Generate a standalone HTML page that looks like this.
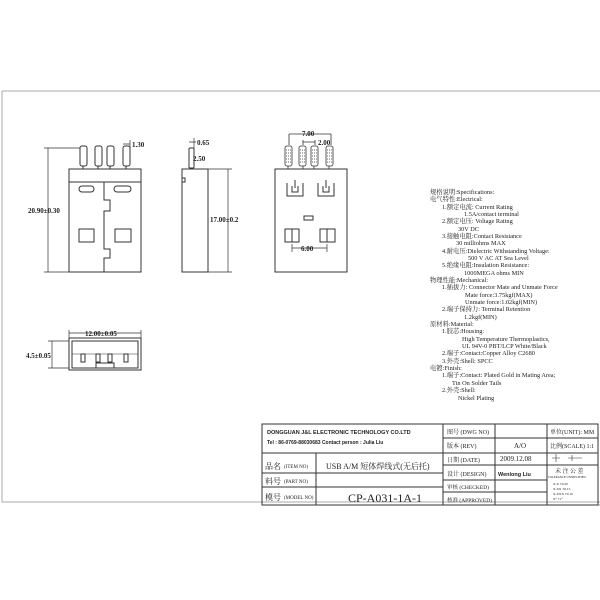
<!DOCTYPE html>
<html><head><meta charset="utf-8"><style>
html,body{margin:0;padding:0;background:#fff}
svg{display:block}
text{font-family:"Liberation Serif","Noto Serif CJK SC",serif;fill:#222}
.s{font-size:6.3px}
</style></head><body>
<svg width="600" height="600" viewBox="0 0 600 600" xmlns="http://www.w3.org/2000/svg">
<g fill="none" stroke="#333" stroke-width="1">
<path d="M2 91 H600 M2 91 V502 H600" stroke="#aaa"/>
<rect x="69" y="169" width="72" height="103"/>
<line x1="69" y1="182" x2="141" y2="182"/>
<path d="M104 182 V200 H110 V211 H104 V249 H110 V258 H104 V272"/>
<rect x="79" y="186" width="15" height="6" rx="3"/>
<rect x="114" y="186" width="17" height="6" rx="3"/>
<rect x="79" y="229" width="15" height="13"/>
<rect x="115" y="229" width="16" height="13"/>
<rect x="80" y="146" width="7" height="20" rx="2"/>
<rect x="95" y="146" width="7" height="20" rx="2"/>
<rect x="107" y="146" width="7" height="20" rx="2"/>
<rect x="123" y="146" width="7" height="20" rx="2"/>
<path d="M83 166V169M98 166V169M110 166V169M126 166V169"/>
<path d="M48 148 V272 M44 148 H80 M44 272 H69" stroke-width="0.7"/>
<path d="M123 144 H130 M130 140 V148" stroke-width="0.7"/>
<rect x="182" y="169" width="26" height="103"/>
<path d="M182 178 H185 V182 H182"/>
<rect x="189" y="148" width="5" height="20" rx="1"/>
<path d="M208 169 H232 M208 272 H232 M228 169 V272" stroke-width="0.7"/>
<path d="M189 142 H196 M194 138 V148" stroke-width="0.7"/>
<rect x="275" y="169" width="72" height="103"/>
<g stroke-width="0.8">
<rect x="285" y="146" width="7" height="20" rx="2"/>
<rect x="299" y="146" width="7" height="20" rx="2"/>
<rect x="311" y="146" width="7" height="20" rx="2"/>
<rect x="326" y="146" width="7" height="20" rx="2"/>
<path d="M286 150h5M286 153h5M286 156h5M286 159h5M286 162h5M300 150h5M300 153h5M300 156h5M300 159h5M300 162h5M312 150h5M312 153h5M312 156h5M312 159h5M312 162h5M327 150h5M327 153h5M327 156h5M327 159h5M327 162h5" stroke-dasharray="1 1"/>
<path d="M288 166V169M303 166V169M314 166V169M329 166V169"/>
<path d="M289 134 V145 M331 134 V145 M289 134 H331 M303 142 H315 M303 140 V145 M315 140 V145"/>
</g>
<path d="M287 183 V196 H303 V183 M292 186 V192 H298 V186 M295 180 V188"/>
<path d="M318 183 V196 H334 V183 M323 186 V192 H329 V186 M326 180 V188"/>
<rect x="304" y="216" width="9" height="4"/>
<rect x="285" y="229" width="14" height="13"/><line x1="292" y1="229" x2="292" y2="242"/>
<rect x="320" y="229" width="15" height="13"/><line x1="327" y1="229" x2="327" y2="242"/>
<path d="M292 244 V252 M327 244 V252 M292 248 H327" stroke-width="0.7"/>
<rect x="69" y="338" width="72" height="32"/>
<rect x="72" y="341" width="66" height="27"/>
<path d="M72 354 H138" stroke-width="0.6"/>
<rect x="81" y="354" width="4" height="8"/>
<rect x="96" y="354" width="4" height="8"/>
<rect x="108" y="354" width="4" height="8"/>
<rect x="124" y="354" width="4" height="8"/>
<path d="M96 368 V363 H114 V368"/>
<path d="M69 333 H141 M69 330 V338 M141 330 V338" stroke-width="0.7"/>
<path d="M52 341 V368 M48 341 H69 M48 368 H69" stroke-width="0.7"/>
<g stroke="#333">
<rect x="262" y="424" width="336" height="81"/>
<line x1="262" y1="505" x2="600" y2="505" stroke-width="0.6"/>
<line x1="262" y1="453" x2="443" y2="453"/>
<line x1="262" y1="473" x2="443" y2="473"/>
<line x1="262" y1="487" x2="443" y2="487"/>
<line x1="316" y1="453" x2="316" y2="505"/>
<line x1="443" y1="424" x2="443" y2="505"/>
<line x1="495" y1="424" x2="495" y2="505"/>
<line x1="547" y1="424" x2="547" y2="505"/>
<line x1="443" y1="438" x2="598" y2="438"/>
<line x1="443" y1="453" x2="598" y2="453"/>
<line x1="443" y1="465" x2="547" y2="465"/>
<line x1="443" y1="480" x2="547" y2="480"/>
<line x1="443" y1="492" x2="547" y2="492"/>
<line x1="547" y1="465" x2="598" y2="465"/>
</g>
<path d="M556 454 V462 M552 458 H560 M568 458 H582 M572 455 V461" stroke-width="0.6"/>
</g>
<g font-size="7" font-weight="bold">
<text x="28" y="213">20.90±0.30</text>
<text x="132" y="147">1.30</text>
<text x="197" y="145">0.65</text>
<text x="193" y="161">2.50</text>
<text x="210" y="222">17.00±0.2</text>
<text x="302" y="136">7.00</text>
<text x="318" y="145">2.00</text>
<text x="301" y="251">6.00</text>
<text x="85" y="336">12.00±0.05</text>
<text x="26" y="358">4.5±0.05</text>
</g>
<g class="s">
<text x="430" y="194">规格说明:Specifications:</text>
<text x="430" y="201">电气特性:Electrical:</text>
<text x="442" y="209">1.额定电流: Current Rating</text>
<text x="464" y="216">1.5A/contact terminal</text>
<text x="442" y="223">2.额定电压: Voltage Rating</text>
<text x="458" y="231">30V DC</text>
<text x="442" y="238">3.接触电阻:Contact Resistance</text>
<text x="456" y="245">30 milliohms MAX</text>
<text x="442" y="253">4.耐电压:Dielectric Withstanding Voltage:</text>
<text x="468" y="260">500 V AC AT Sea Level</text>
<text x="442" y="267">5.绝缘电阻:Insulation Resistance:</text>
<text x="464" y="275">1000MEGA ohms MIN</text>
<text x="430" y="282">物理性能:Mechanical:</text>
<text x="442" y="289">1.插拔力: Connector Mate and Unmate Force</text>
<text x="465" y="297">Mate force:3.75kgf(MAX)</text>
<text x="465" y="304">Unmate force:1.02kgf(MIN)</text>
<text x="442" y="311">2.端子保持力: Terminal Retention</text>
<text x="464" y="319">1.2kgf(MIN)</text>
<text x="430" y="326">原材料:Material:</text>
<text x="442" y="333">1.胶芯:Housing:</text>
<text x="462" y="341">High Temperature  Thermoplastics,</text>
<text x="462" y="348">UL 94V-0  PBT/LCP White/Black</text>
<text x="442" y="355">2.端子:Contact:Copper Alloy C2680</text>
<text x="442" y="363">3.外壳:Shell: SPCC</text>
<text x="430" y="370">电镀:Finish:</text>
<text x="442" y="377">1.端子:Contact: Plated Gold in Mating Area;</text>
<text x="452" y="385">Tin On Solder Tails</text>
<text x="442" y="392">2.外壳:Shell:</text>
<text x="458" y="400">Nickel Plating</text>
</g>
<text x="267" y="434" style="font-family:'Liberation Sans',sans-serif;font-size:5.5px;font-weight:bold">DONGGUAN J&amp;L ELECTRONIC TECHNOLOGY CO.LTD</text>
<text x="267" y="444" style="font-family:'Liberation Sans',sans-serif;font-size:5px;font-weight:bold">Tel : 86-0769-88030683    Contact person : Julia Liu</text>
<g font-size="5.5">
<text x="265" y="469" font-size="8">品名</text><text x="284" y="468" font-size="5">(ITEM NO)</text>
<text x="265" y="484" font-size="8">料号</text><text x="284" y="483" font-size="5">(PART NO)</text>
<text x="265" y="500" font-size="8">模号</text><text x="284" y="499" font-size="5">(MODEL NO)</text>
<text x="326" y="469" font-size="8">USB A/M 短体焊线式(无后托)</text>
<text x="348" y="502" font-size="12">CP-A031-1A-1</text>
<text x="447" y="434" font-size="6">图号 (DWG NO)</text>
<text x="447" y="448" font-size="6">版本 (REV)</text>
<text x="447" y="462" font-size="6">日期 (DATE)</text>
<text x="447" y="476" font-size="6">设计 (DESIGN)</text>
<text x="447" y="489" font-size="5.5">审核 (CHECKED)</text>
<text x="447" y="502" font-size="5.5">核准 (APPROVED)</text>
<text x="514" y="448" font-size="7">A/O</text>
<text x="500" y="461" font-size="7">2009.12.08</text>
<text x="498" y="476" style="font-family:'Liberation Sans',sans-serif;font-size:5.5px;font-weight:bold">Wenlong Liu</text>
<text x="550" y="434" font-size="6">单位(UNIT): MM</text>
<text x="550" y="448" font-size="6">比例(SCALE) 1:1</text>
<text x="555" y="473" font-size="6">未 注 公 差</text>
<text x="548" y="478" font-size="3">TOLERANCE UNSPECIFIED</text>
<text x="553" y="485" font-size="3.5">X.X   ±0.20</text>
<text x="553" y="490" font-size="3.5">X.XX  ±0.15</text>
<text x="553" y="495" font-size="3.5">X.XXX ±0.10</text>
<text x="553" y="500" font-size="3.5">X°    ±1°</text>
</g>
</svg>
</body></html>
